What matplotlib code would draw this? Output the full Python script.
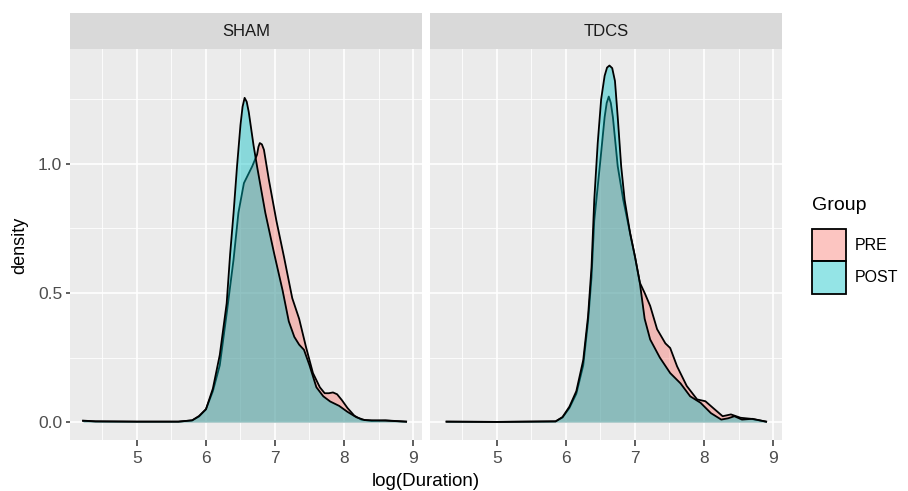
import matplotlib.pyplot as plt
from matplotlib.patches import Patch
from matplotlib.ticker import MultipleLocator

plt.rcParams['font.family'] = ['Liberation Sans', 'DejaVu Sans']

W, H = 908, 491

facets = ['SHAM', 'TDCS']
groups = ['PRE', 'POST']
group_colors = ['#F8766D', '#00BFC4']

# density curves (x = log(Duration), y = density)
sham_pre_x = [4.22, 4.4, 5.0, 5.6, 5.8, 5.9, 6.0, 6.1, 6.2, 6.3, 6.4, 6.47, 6.55, 6.67,
              6.74, 6.76, 6.78, 6.81, 6.84, 6.91, 7.02, 7.13, 7.25, 7.35, 7.45, 7.55,
              7.65, 7.72, 7.78, 7.84, 7.9, 7.97, 8.05, 8.15, 8.25, 8.4, 8.6, 8.9]
sham_pre_y = [0.005, 0.003, 0.002, 0.002, 0.007, 0.022, 0.05, 0.12, 0.22, 0.42, 0.63,
              0.81, 0.925, 0.99, 1.035, 1.065, 1.08, 1.075, 1.054, 0.94, 0.78, 0.64,
              0.48, 0.40, 0.29, 0.19, 0.135, 0.112, 0.112, 0.115, 0.108, 0.085, 0.055,
              0.025, 0.01, 0.005, 0.007, 0.002]

sham_post_x = [4.22, 4.4, 5.0, 5.6, 5.8, 5.9, 6.0, 6.1, 6.2, 6.3, 6.35, 6.4, 6.45, 6.5,
               6.53, 6.56, 6.59, 6.62, 6.69, 6.74, 6.86, 6.99, 7.11, 7.2, 7.28, 7.35,
               7.42, 7.5, 7.6, 7.7, 7.8, 7.93, 8.05, 8.18, 8.3, 8.6, 8.9]
sham_post_y = [0.006, 0.003, 0.002, 0.002, 0.007, 0.024, 0.05, 0.13, 0.26, 0.46, 0.65,
               0.81, 0.99, 1.15, 1.22, 1.255, 1.24, 1.20, 1.07, 0.99, 0.81, 0.65, 0.51,
               0.39, 0.33, 0.30, 0.28, 0.22, 0.135, 0.10, 0.08, 0.063, 0.04, 0.019,
               0.008, 0.006, 0.002]

tdcs_pre_x = [4.27, 5.0, 5.85, 5.95, 6.05, 6.15, 6.25, 6.32, 6.37, 6.41, 6.49, 6.56, 6.59,
              6.62, 6.65, 6.68, 6.75, 6.83, 6.93, 7.0, 7.07, 7.14, 7.22, 7.32, 7.44, 7.51,
              7.61, 7.75, 7.9, 8.02, 8.14, 8.27, 8.39, 8.53, 8.68, 8.9]
tdcs_pre_y = [0.002, 0.001, 0.003, 0.018, 0.055, 0.11, 0.22, 0.39, 0.56, 0.78, 0.99, 1.18,
              1.235, 1.26, 1.235, 1.18, 0.99, 0.86, 0.73, 0.64, 0.54, 0.50, 0.45, 0.36,
              0.305, 0.287, 0.216, 0.14, 0.088, 0.081, 0.053, 0.023, 0.03, 0.017, 0.013,
              0.002]

tdcs_post_x = [4.27, 5.0, 5.85, 5.95, 6.05, 6.15, 6.25, 6.32, 6.37, 6.41, 6.46, 6.51, 6.56,
               6.595, 6.63, 6.67, 6.71, 6.75, 6.8, 6.85, 6.93, 7.0, 7.07, 7.14, 7.22,
               7.36, 7.51, 7.66, 7.8, 7.95, 8.1, 8.25, 8.35, 8.44, 8.55, 8.7, 8.9]
tdcs_post_y = [0.002, 0.001, 0.003, 0.02, 0.06, 0.12, 0.24, 0.41, 0.60, 0.86, 1.08, 1.25,
               1.34, 1.372, 1.38, 1.37, 1.32, 1.18, 0.99, 0.86, 0.73, 0.64, 0.54, 0.40,
               0.32, 0.25, 0.19, 0.15, 0.10, 0.075, 0.035, 0.01, 0.015, 0.023, 0.01,
               0.013, 0.002]

curves = {
    'SHAM': [(sham_pre_x, sham_pre_y), (sham_post_x, sham_post_y)],
    'TDCS': [(tdcs_pre_x, tdcs_pre_y), (tdcs_post_x, tdcs_post_y)],
}

x_ticks = [5, 6, 7, 8, 9]
y_ticks = [0.0, 0.5, 1.0]

fig = plt.figure(figsize=(W / 100, H / 100), dpi=100)


def px_axes(left, top, width, height):
    return fig.add_axes([left / W, 1 - (top + height) / H, width / W, height / H])


for i, facet in enumerate(facets):
    left = 70 + i * 360
    ax = px_axes(left, 49, 352, 391)
    ax.set_facecolor('#EBEBEB')
    for j, (xs, ys) in enumerate(curves[facet]):
        ax.fill_between(xs, 0, ys, color=group_colors[j], alpha=0.42, lw=0, zorder=3 + 2 * j)
        ax.plot(xs, ys, color='black', lw=1.3, zorder=4 + 2 * j, solid_joinstyle='round')
    ax.set_xlim(4.03, 9.13)
    ax.set_ylim(-0.069, 1.444)
    ax.set_xticks(x_ticks)
    ax.set_xticklabels([str(t) for t in x_ticks])
    ax.xaxis.set_minor_locator(MultipleLocator(0.5))
    ax.set_yticks(y_ticks)
    ax.yaxis.set_minor_locator(MultipleLocator(0.25))
    ax.grid(which='major', color='white', lw=1.2, zorder=0)
    ax.grid(which='minor', color='white', lw=0.6, zorder=0)
    ax.set_axisbelow(True)
    for s in ax.spines.values():
        s.set_visible(False)
    ax.tick_params(which='major', width=1.1, color='#333333',
                   labelcolor='#4D4D4D', labelsize=12.5)
    ax.tick_params(axis='x', which='major', length=4.3, pad=3.5)
    ax.tick_params(axis='y', which='major', length=3, pad=2.5)
    ax.tick_params(which='minor', length=0)
    if i == 0:
        ax.set_yticklabels(['0.0', '0.5', '1.0'])
    else:
        ax.tick_params(axis='y', which='both', left=False, labelleft=False)

    strip = px_axes(left, 13, 352, 36)
    strip.set_facecolor('#D9D9D9')
    strip.set_xticks([])
    strip.set_yticks([])
    for s in strip.spines.values():
        s.set_visible(False)
    strip.text(0.5, 0.5, facet, ha='center', va='center', fontsize=12, color='#1A1A1A',
               transform=strip.transAxes)

fig.text(20 / W, 1 - 245 / H, 'density', rotation=90, ha='center', va='center', fontsize=13)
fig.text(426 / W, 1 - 481 / H, 'log(Duration)', ha='center', va='center', fontsize=13.5)

# legend: title placed separately so the keys can sit a little lower
fig.text(812 / W, 1 - 205 / H, 'Group', ha='left', va='center', fontsize=14)
handles = [Patch(facecolor=c, alpha=0.42, edgecolor='black', lw=1.3) for c in group_colors]
leg = fig.legend(handles, groups, loc='upper left',
                 bbox_to_anchor=(804 / W, 1 - 221 / H), frameon=False, fontsize=11.5,
                 handlelength=2.1, handleheight=2.75,
                 labelspacing=0.0, handletextpad=0.6, borderpad=0)
for h in leg.legend_handles:
    h.set_edgecolor('black')
    h.set_alpha(None)
    h.set_facecolor(h.get_facecolor()[:3] + (0.42,))

fig.savefig('out.png', dpi=100)
